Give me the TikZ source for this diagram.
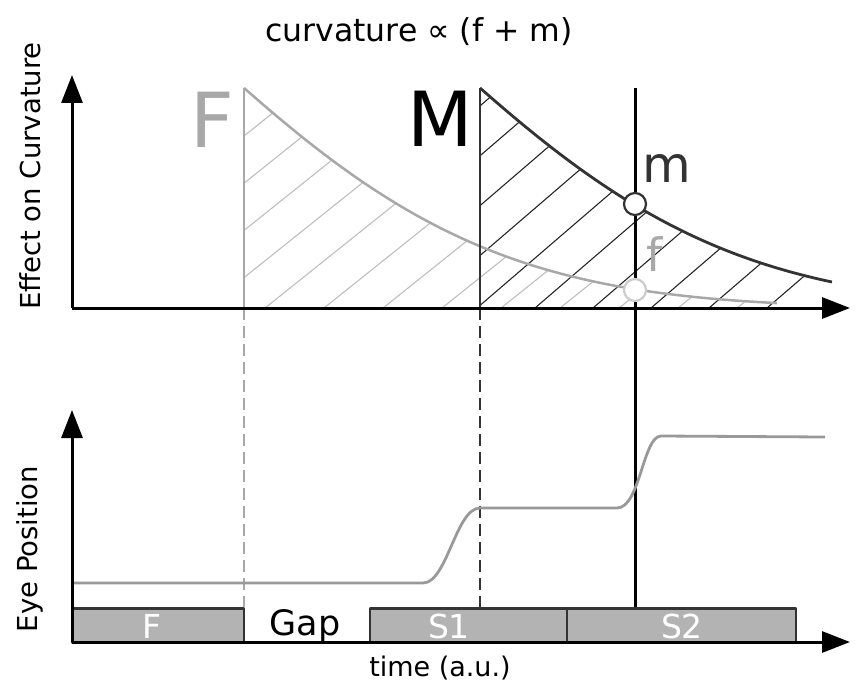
\documentclass[tikz,border=0pt]{standalone}
\usepackage{fontspec}
\setmainfont{DejaVu Sans}
\usetikzlibrary{arrows.meta}
\definecolor{fgray}{HTML}{A8A8A8}
\definecolor{mdark}{HTML}{333333}
\definecolor{hgray}{HTML}{BDBDBD}
\definecolor{bargray}{HTML}{B3B3B3}
\definecolor{eyegray}{HTML}{999999}
\definecolor{cgray}{HTML}{CCCCCC}
\begin{document}
\begin{tikzpicture}[x=1pt,y=-1pt,line join=round,
  axis/.style={line width=3pt,-{Triangle[length=28pt,width=21pt]}},
  fcurve/.style={fgray,line width=2.5pt},
  mcurve/.style={mdark,line width=2.8pt},
  hatchF/.style={hgray,line width=1.1pt},
  hatchM/.style={black!85,line width=1.1pt},
  dashF/.style={fgray,line width=2.5pt,dash pattern=on 12pt off 6pt},
  dashM/.style={mdark,line width=2.5pt,dash pattern=on 12pt off 6pt},
  eye/.style={eyegray,line width=2.8pt},
  barbox/.style={draw=mdark,fill=bargray,line width=2.2pt,minimum height=34pt,inner sep=0pt},
  barlabel/.style={text=white,font=\fontsize{33}{38}\selectfont},
  mark circle/.style={circle,fill=white,line width=2.2pt,minimum size=22pt,inner sep=0pt}]
\useasboundingbox (0,0) rectangle (866,698);

% coordinates
\coordinate (o1) at (72,308);
\coordinate (y1) at (72,75);
\coordinate (x1) at (850,308);
\coordinate (o2) at (72,642);
\coordinate (y2) at (72,410);
\coordinate (x2) at (850,642);
\coordinate (Ftop) at (244,88);
\coordinate (Fbase) at (244,308);
\coordinate (Fbot) at (244,607);
\coordinate (Mtop) at (480,88);
\coordinate (Mbase) at (480,308);
\coordinate (Mbot) at (480,607);
\coordinate (Ttop) at (635,88);
\coordinate (Tbot) at (635,607);
\coordinate (Fend) at (777,308);
\coordinate (Mend) at (832,308);

% hatching F
\begin{scope}
  \clip (Fbase) -- plot[domain=0:5.33,samples=60] ({244+100*\x},{308-220*exp(-0.4*\x-0.0587*\x*\x)}) -- (Fend) -- cycle;
  \foreach \k in {-6,...,9} \draw[hatchF] ({265+59*\k},308) -- ++(600,-480);
\end{scope}
% hatching M
\begin{scope}
  \clip (Mbase) -- plot[domain=0:3.52,samples=50] ({480+100*\x},{308-220*exp(-0.4*\x-0.0587*\x*\x)}) -- (Mend) -- cycle;
  \foreach \k in {-6,...,7} \draw[hatchM] ({477+58*\k},308) -- ++(400,-344);
\end{scope}

% curves
\draw[fcurve] plot[domain=0:5.33,samples=60] ({244+100*\x},{308-220*exp(-0.4*\x-0.0587*\x*\x)});
\draw[fcurve] (Fbase) -- (Ftop);
\draw[dashF] (Fbase) -- (Fbot);
\draw[mcurve] plot[domain=0:3.52,samples=50] ({480+100*\x},{308-220*exp(-0.4*\x-0.0587*\x*\x)});
\draw[mdark,line width=2.5pt] (Mbase) -- (Mtop);
\draw[dashM] (Mbase) -- (Mbot);
\draw[black,line width=3pt] (Ttop) -- (Tbot);

% axes
\draw[axis] (o1) -- (y1);
\draw[axis] (o1) -- (x1);

% eye position
\coordinate (e0) at (72,583);
\coordinate (e1) at (423,583);
\coordinate (e2) at (480,508);
\coordinate (e3) at (617,508);
\coordinate (e4) at (661,436);
\coordinate (e5) at (825,437);
\draw[eye] (e0) -- (e1) .. controls (447,583) and (456,508) .. (e2) -- (e3) .. controls (640,508) and (643,436) .. (e4) -- (e5);

% bars
\node[barbox,minimum width=172pt] (barF) at (158,625.5) {};
\node[barbox,minimum width=197pt] (barS1) at (468.5,625.5) {};
\node[barbox,minimum width=229pt] (barS2) at (681.5,625.5) {};
\node[barlabel] (tF) at (152,626) {F};
\node[barlabel] (tS1) at (449,626) {S1};
\node[barlabel] (tS2) at (682,626) {S2};
\node[font=\fontsize{35}{40}\selectfont] (gap) at (305,626) {Gap};

\draw[axis] (o2) -- (y2);
\draw[axis] (o2) -- (x2);

% circles
\node[mark circle,draw=mdark] (mc) at (635,204) {};
\node[mark circle,draw=cgray] (fc) at (635,290) {};

% labels
\node[anchor=base,font=\fontsize{31.5}{37}\selectfont] (title) at (419,42) {curvature ∝ (f + m)};
\node[text=fgray,font=\fontsize{76}{80}\selectfont,inner sep=0pt] (Flab) at (212,120) {F};
\node[font=\fontsize{76}{80}\selectfont,inner sep=0pt] (Mlab) at (440,119) {M};
\node[text=mdark,font=\fontsize{50}{56}\selectfont,inner sep=0pt] (mlab) at (667,168) {m};
\node[text=fgray,font=\fontsize{46}{52}\selectfont,inner sep=0pt] (flab) at (655,254) {f};
\node[rotate=90,font=\fontsize{27.5}{32}\selectfont] (ylab1) at (30,176) {Effect on Curvature};
\node[rotate=90,font=\fontsize{27.5}{32}\selectfont] (ylab2) at (30,549) {Eye Position};
\node[font=\fontsize{27}{32}\selectfont] (xlab) at (440,668) {time (a.u.)};
\end{tikzpicture}
\end{document}
